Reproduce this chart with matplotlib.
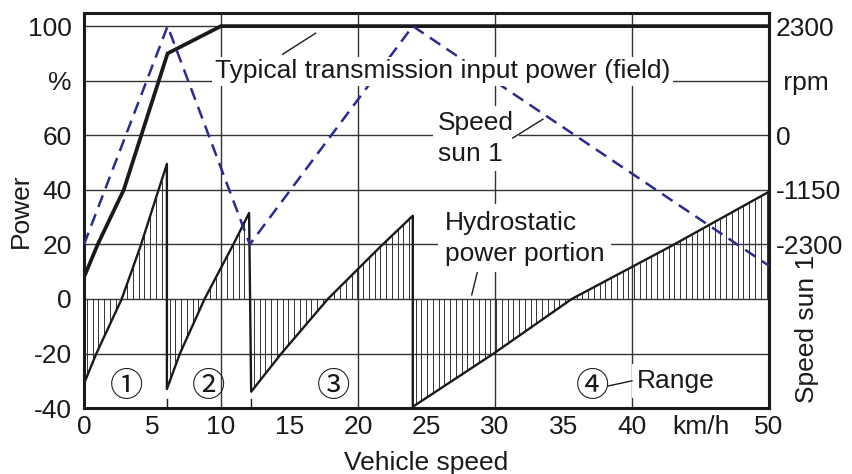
import numpy as np
import matplotlib
matplotlib.use("Agg")
import matplotlib.pyplot as plt

plt.rcParams['font.family'] = ['Liberation Sans', 'DejaVu Sans']
plt.rcParams['font.size'] = 19

### Data
# hydrostatic power portion (%), one polyline per range
range_x = [[0, 0.9, 2.75, 4.1, 6.05],
           [6.05, 7.0, 8.8, 10.9, 12.05],
           [12.2, 14.4, 17.8, 21.6, 24.0],
           [24.0, 29.9, 35.6, 42.9, 50.0]]
range_y = [[-31, -20, 0, 19, 49.5],
           [-33, -20, 0, 20, 31.5],
           [-34, -20, 0, 19, 30.5],
           [-39.5, -20, 0, 19.5, 39.3]]
range_names = ['①', '②', '③', '④']

# typical transmission input power (field), %
power_x = [0, 1.0, 2.9, 6.1, 10.0, 50.0]
power_y = [8, 20, 40, 90, 100, 100]

# speed of sun gear 1, rpm
sun_x = [0, 6.1, 12.1, 24.0, 50.0]
sun_rpm = [-2300, 2300, -2300, 2300, -2750]

x_ticks = [0, 5, 10, 15, 20, 25, 30, 35, 40, 45, 50]
x_labels = ['0', '5', '10', '15', '20', '25', '30', '35', '40', 'km/h', '50']
y_ticks = [-40, -20, 0, 20, 40, 60, 80, 100]
y_labels = ['-40', '-20', '0', '20', '40', '60', '%', '100']
rpm_ticks = [2300, 1150, 0, -1150, -2300]
rpm_labels = ['2300', ' rpm', '0', '-1150', '-2300']


def rpm_to_pct(r):
    return np.asarray(r) / 57.5 + 60


def pct_to_rpm(p):
    return (np.asarray(p) - 60) * 57.5


fig = plt.figure(figsize=(8.53, 4.74), dpi=100)
ax = fig.add_axes([0.0985, 0.139, 0.803, 0.8335])
ax.set_xlim(0, 50)
ax.set_ylim(-40, 104.8)

ink = '#1a1a1a'
white_box = dict(facecolor='white', edgecolor='none')

# grid only every 10 km/h and 20 %
for gx in [10, 20, 30, 40]:
    ax.axvline(gx, color='#333333', lw=1.0, zorder=1)
for gy in [-20, 0, 20, 40, 60, 80, 100]:
    ax.axhline(gy, color='#333333', lw=1.0, zorder=1)

### Hydrostatic power portion with vertical hatching
hx, hy = [], []
for rx, ry in zip(range_x, range_y):
    xs = np.arange(rx[0] + 0.2, rx[-1], 0.42)
    ax.vlines(xs, 0, np.interp(xs, rx, ry), color='#333333', lw=0.7, zorder=2)
    hx += rx
    hy += ry
ax.plot(hx, hy, color=ink, lw=1.7, zorder=3)

# little marks at the range changes
for rx in range_x[1:3]:
    ax.plot([rx[0], rx[0]], [-40, -36.5], color=ink, lw=1.0, zorder=2)

### Input power and sun speed
ax.plot(power_x, power_y, color=ink, lw=2.7, zorder=3, solid_joinstyle='miter')
ax.plot(sun_x, rpm_to_pct(sun_rpm), color='#2b2b8f', lw=1.8, dashes=(5, 3), zorder=3)

### Labels in the plot
ax.text(9.56, 83.5, 'Typical transmission input power (field)', ha='left', va='center',
        color=ink, zorder=5, bbox=dict(boxstyle='square,pad=0.1', **white_box))
ax.plot([14.5, 16.9], [89.7, 97.4], color=ink, lw=1.0, zorder=5)

ax.text(25.84, 58.8, 'Speed\nsun 1', ha='left', va='center', linespacing=1.35,
        color=ink, zorder=5, bbox=dict(boxstyle='square,pad=0.2', **white_box))
ax.plot([31.3, 33.5], [59.0, 65.9], color=ink, lw=1.0, zorder=5)

ax.text(26.35, 22.2, 'Hydrostatic\npower portion', ha='left', va='center', linespacing=1.35,
        color=ink, zorder=5, bbox=dict(boxstyle='square,pad=0.25', **white_box))
ax.plot([28.7, 28.3], [9.6, 1.5], color=ink, lw=1.0, zorder=5)

ax.text(40.36, -30.0, 'Range', ha='left', va='center', color=ink, zorder=5,
        bbox=dict(boxstyle='square,pad=0.2', **white_box))
ax.plot([38.25, 40.0], [-31.9, -30.0], color=ink, lw=1.0, zorder=5)

for name, cx in zip(range_names, [3.07, 9.07, 18.2, 37.15]):
    ax.text(cx, -32.3, name, ha='center', va='center', fontsize=24, color=ink, zorder=5,
            family=['Liberation Serif', 'Noto Sans CJK JP', 'DejaVu Sans'])

### Axes, ticks
ax.set_xticks(x_ticks, labels=x_labels)
ax.set_yticks(y_ticks, labels=y_labels)
ax.tick_params(length=0, colors=ink)
ax.tick_params(axis='y', pad=9)
ax.tick_params(axis='x', pad=5)
for s in ax.spines.values():
    s.set_linewidth(2.2)
    s.set_color(ink)

sec = ax.secondary_yaxis('right', functions=(pct_to_rpm, rpm_to_pct))
sec.set_yticks(rpm_ticks, labels=rpm_labels)
sec.tick_params(length=0, pad=5, colors=ink)
sec.spines['right'].set_linewidth(2.2)

ax.text(0.5, -0.139, 'Vehicle speed', ha='center', va='center', color=ink, transform=ax.transAxes)
ax.text(-0.092, 0.5, 'Power', rotation=90, ha='center', va='center', color=ink,
        transform=ax.transAxes)
ax.text(1.055, 0.013, 'Speed sun 1', rotation=90, ha='center', va='bottom', color=ink,
        transform=ax.transAxes)

fig.savefig('out.png', dpi=100)
